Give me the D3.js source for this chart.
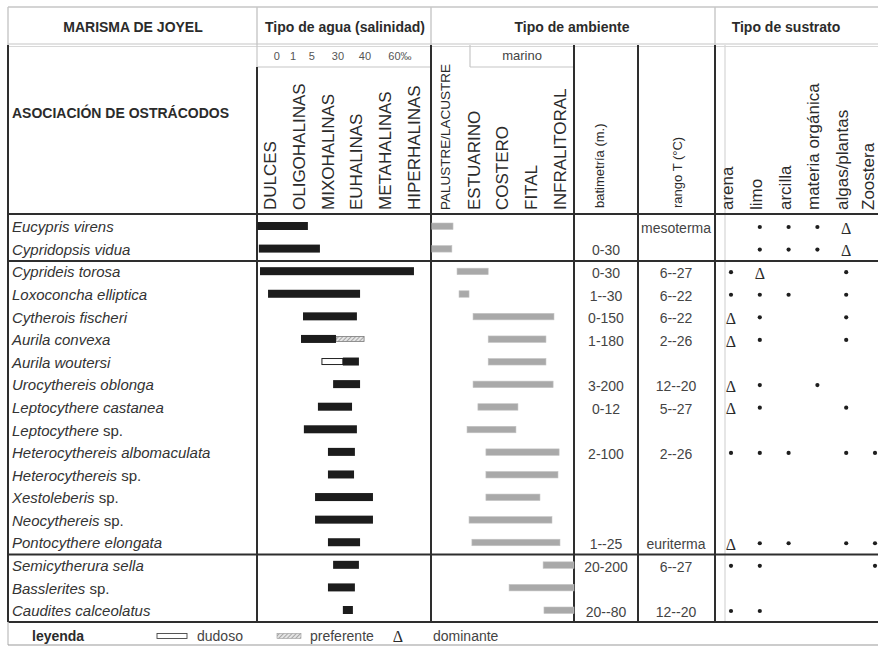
<!DOCTYPE html>
<html>
<head>
<meta charset="utf-8">
<script src="https://cdn.jsdelivr.net/npm/d3@7"></script>
<style>
  body { margin: 0; background: #fff; }
  svg { display: block; }
  text { font-family: "Liberation Sans", Arial, sans-serif; fill: #2b2b2b; }
</style>
</head>
<body>
<svg id="chart" width="878" height="646"></svg>
<script>
// ---- Species (rows) ----
const species = [
  "Eucypris virens", "Cypridopsis vidua",
  "Cyprideis torosa", "Loxoconcha elliptica", "Cytherois fischeri", "Aurila convexa",
  "Aurila woutersi", "Urocythereis oblonga", "Leptocythere castanea", "Leptocythere sp.",
  "Heterocythereis albomaculata", "Heterocythereis sp.", "Xestoleberis sp.", "Neocythereis sp.",
  "Pontocythere elongata",
  "Semicytherura sella", "Basslerites sp.", "Caudites calceolatus"
];
// first row of each new association group
const groupStarts = [2, 15];

// ---- Water type (salinity) : classes and tolerance ranges in class units ----
const waterTypes = ["DULCES", "OLIGOHALINAS", "MIXOHALINAS", "EUHALINAS", "METAHALINAS", "HIPERHALINAS"];
const salinityTicks = ["0", "1", "5", "30", "40", "60‰"];
const salinityTickAt = [0.73, 1.29, 1.95, 2.86, 3.80, 5.02];
const salFrom = [0.05, 0.10, 0.14, 0.42, 1.64, 1.57, 3.03, 2.69, 2.16, 1.67, 2.51, 2.51, 2.06, 2.06, 2.51, 2.69, 2.51, 3.03];
const salTo   = [1.81, 2.23, 5.51, 3.63, 3.52, 2.79, 3.59, 3.63, 3.35, 3.52, 3.45, 3.42, 4.08, 4.08, 3.63, 3.59, 3.45, 3.38];
// extra segments: preferred (hatched) or doubtful (open) range
const salExtraType = [null, null, null, null, null, "preferente", "dudoso", null, null, null, null, null, null, null, null, null, null, null];
const salExtraFrom = [0, 0, 0, 0, 0, 2.79, 2.30, 0, 0, 0, 0, 0, 0, 0, 0, 0, 0, 0];
const salExtraTo   = [0, 0, 0, 0, 0, 3.77, 3.03, 0, 0, 0, 0, 0, 0, 0, 0, 0, 0, 0];

// ---- Environment type ----
const envTypes = ["ESTUARINO", "COSTERO", "FITAL", "INFRALITORAL"];
const envFirst = "PALUSTRE/LACUSTRE";
const envFrom = [0.03, 0.03, 0.91, 0.98, 1.47, 2.00, 2.00, 1.47, 1.64, 1.26, 1.92, 1.92, 1.92, 1.33, 1.43, 3.92, 2.73, 3.95];
const envTo   = [0.77, 0.73, 2.00, 1.33, 4.30, 4.02, 4.02, 4.27, 3.04, 2.97, 4.48, 4.44, 3.81, 4.23, 4.51, 5.00, 5.00, 5.00];

// ---- Bathymetry (m) and temperature range (°C) ----
const batimetria = ["", "0-30", "0-30", "1--30", "0-150", "1-180", "", "3-200", "0-12", "", "2-100", "", "", "", "1--25", "20-200", "", "20--80"];
const rangoT = ["mesoterma", "", "6--27", "6--22", "6--22", "2--26", "", "12--20", "5--27", "", "2--26", "", "", "", "euriterma", "6--27", "", "12--20"];

// ---- Substrate: o = present, D = dominant, - = absent ----
const sustratoCols = ["arena", "limo", "arcilla", "materia orgánica", "algas/plantas", "Zoostera"];
const sustrato = [
  "-oooD-", "-oooD-",
  "oD--o-", "ooo-o-", "Do--o-", "Do--o-", "------", "Do-o--", "Do--o-", "------",
  "ooo-oo", "------", "------", "------", "Doo-oo",
  "oo---o", "------", "oo----"
];

// ---- Layout ----
const X = { left: 8, sal: 257, env: 431, bat: 574, ran: 638, sub: 715, subInner: 725, right: 878 };
const Y = { top: 7, hdr1: 45, numRow: 67, hdr2: 214, dataEnd: 622, legendEnd: 645 };
const DARK = "#2e2e2e", LIGHT = "#c6c6c6";

const svg = d3.select("#chart");

const xSal = d3.scaleLinear().domain([0, 6]).range([256, 428]);
const xEnv = d3.scaleLinear().domain([0, 5]).range([431, 574]);
const xSub = d3.scalePoint().domain(sustratoCols).range([731, 875]);
const yRow = d3.scalePoint().domain(d3.range(species.length)).range([227, 611]);

// hatch pattern for "preferente"
const defs = svg.append("defs");
const pat = defs.append("pattern").attr("id", "hatch").attr("patternUnits", "userSpaceOnUse")
  .attr("width", 3).attr("height", 3).attr("patternTransform", "rotate(45)");
pat.append("rect").attr("width", 3).attr("height", 3).attr("fill", "#e4e4e4");
pat.append("line").attr("x1", 0).attr("y1", 0).attr("x2", 0).attr("y2", 3).attr("stroke", "#7d7d7d").attr("stroke-width", 1.2);

const grid = svg.append("g");
function hline(y, x1, x2, color, w) {
  grid.append("line").attr("x1", x1).attr("x2", x2).attr("y1", y).attr("y2", y)
    .attr("stroke", color).attr("stroke-width", w);
}
function vline(x, y1, y2, color, w) {
  grid.append("line").attr("x1", x).attr("x2", x).attr("y1", y1).attr("y2", y2)
    .attr("stroke", color).attr("stroke-width", w);
}

// light frame of the title row
hline(Y.top, X.left, X.right, LIGHT, 1.4);
hline(Y.hdr1 - 1, X.left, X.right, LIGHT, 1.2);
hline(Y.hdr1 + 1.5, X.left, X.right, "#d8d8d8", 1.2);
[X.left, X.sal, X.env, X.sub].forEach(x => vline(x, Y.top, Y.hdr1, LIGHT, 1.4));
vline(X.sal, Y.hdr1, Y.numRow, LIGHT, 1.2);
hline(Y.numRow, X.sal, X.env, LIGHT, 1.2);
// "marino" box
vline(470, Y.hdr1, Y.numRow, LIGHT, 1.2);
hline(Y.numRow, 470, X.bat, LIGHT, 1.2);
vline(X.subInner, Y.hdr1, Y.dataEnd, "#d6d6d6", 1.2);

// dark grid
vline(X.left, Y.hdr1, Y.dataEnd, DARK, 2);
vline(X.sal, Y.numRow, Y.dataEnd, DARK, 2);
[X.env, X.bat, X.ran, X.sub].forEach(x => vline(x, Y.hdr1, Y.dataEnd, DARK, 2));
hline(Y.hdr2, X.left, X.right, DARK, 2);
groupStarts.forEach(i => hline((yRow(i - 1) + yRow(i)) / 2, X.left, X.right, DARK, 2));
hline(Y.dataEnd, X.left, X.right, DARK, 2);
// legend row frame
vline(X.left, Y.dataEnd, Y.legendEnd, LIGHT, 1.4);
hline(Y.legendEnd, X.left, X.right, "#9a9a9a", 1.2);

// ---- Headers ----
const hdr = svg.append("g");
function title(x, text) {
  hdr.append("text").attr("x", x).attr("y", 27).attr("dy", "0.35em").attr("text-anchor", "middle")
    .style("font-size", "14px").style("font-weight", "bold").text(text);
}
title(133, "MARISMA DE JOYEL");
title(345, "Tipo de agua (salinidad)");
title(572, "Tipo de ambiente");
title(786, "Tipo de sustrato");

hdr.append("text").attr("x", 12).attr("y", 113).attr("dy", "0.35em")
  .style("font-size", "14px").style("font-weight", "bold").text("ASOCIACIÓN DE OSTRÁCODOS");

function vlabel(x, yb, text, size) {
  hdr.append("text").attr("transform", `translate(${x},${yb}) rotate(-90)`).attr("dy", "0.35em")
    .style("font-size", size + "px").text(text);
}
waterTypes.forEach((t, i) => vlabel(xSal(i + 0.5), 210, t, 17));
salinityTicks.forEach((t, i) => {
  hdr.append("text").attr("x", xSal(salinityTickAt[i])).attr("y", 56).attr("dy", "0.35em")
    .attr("text-anchor", "middle").style("font-size", "11px").style("fill", "#555").text(t);
});
vlabel(xEnv(0.5), 210, envFirst, 13.5);
envTypes.forEach((t, i) => vlabel(xEnv(i + 1.5), 210, t, 17));
hdr.append("text").attr("x", 522).attr("y", 55).attr("dy", "0.35em").attr("text-anchor", "middle")
  .style("font-size", "13px").style("fill", "#444").text("marino");
vlabel(599, 208, "batimetría (m.)", 13);
vlabel(677, 208, "rango T (°C)", 13);
// substrate labels; the last one is nudged so it stays inside the page
sustratoCols.forEach((c, j) => vlabel(Math.min(xSub(c) - 4, 868), 210, c, 17));

// ---- Rows ----
const rows = svg.append("g");
species.forEach((name, i) => {
  const t = rows.append("text").attr("x", 12).attr("y", yRow(i)).attr("dy", "0.35em")
    .style("font-size", "15px").style("fill", "#333");
  if (name.endsWith(" sp.")) {
    t.append("tspan").style("font-style", "italic").text(name.slice(0, -4));
    t.append("tspan").text(" sp.");
  } else {
    t.style("font-style", "italic").text(name);
  }
});

// salinity bars
const barH = 8;
species.forEach((_, i) => {
  const yc = yRow(i) - 1;
  if (salExtraType[i] === "preferente") {
    rows.append("rect").attr("x", xSal(salExtraFrom[i])).attr("y", yc - barH / 2 + 1.5)
      .attr("width", xSal(salExtraTo[i]) - xSal(salExtraFrom[i])).attr("height", barH - 3)
      .attr("fill", "url(#hatch)").attr("stroke", "#7a7a7a").attr("stroke-width", 0.8);
  } else if (salExtraType[i] === "dudoso") {
    rows.append("rect").attr("x", xSal(salExtraFrom[i])).attr("y", yc - barH / 2 + 1)
      .attr("width", xSal(salExtraTo[i]) - xSal(salExtraFrom[i])).attr("height", barH - 2)
      .attr("fill", "#fff").attr("stroke", "#222").attr("stroke-width", 1);
  }
  rows.append("rect").attr("x", xSal(salFrom[i])).attr("y", yc - barH / 2)
    .attr("width", xSal(salTo[i]) - xSal(salFrom[i])).attr("height", barH)
    .attr("fill", "#1c1c1c");
});

// environment bars
species.forEach((_, i) => {
  rows.append("rect").attr("x", xEnv(envFrom[i])).attr("y", yRow(i) - 4)
    .attr("width", xEnv(envTo[i]) - xEnv(envFrom[i])).attr("height", 6.5)
    .attr("fill", "#a9a9a9").attr("stroke", "#c4c4c4").attr("stroke-width", 0.6);
});

// bathymetry and temperature
species.forEach((_, i) => {
  if (batimetria[i]) rows.append("text").attr("x", 606).attr("y", yRow(i) + 1).attr("dy", "0.35em")
    .attr("text-anchor", "middle").style("font-size", "14px").style("fill", "#444").text(batimetria[i]);
  if (rangoT[i]) rows.append("text").attr("x", 676).attr("y", yRow(i) + 1).attr("dy", "0.35em")
    .attr("text-anchor", "middle").style("font-size", "14px").style("fill", "#444").text(rangoT[i]);
});

// substrate symbols
species.forEach((_, i) => {
  sustratoCols.forEach((c, j) => {
    const s = sustrato[i][j];
    if (s === "o") {
      rows.append("circle").attr("cx", xSub(c)).attr("cy", yRow(i)).attr("r", 2.1).attr("fill", "#1e1e1e");
    } else if (s === "D") {
      rows.append("text").attr("x", xSub(c)).attr("y", yRow(i) + 1).attr("dy", "0.35em")
        .attr("text-anchor", "middle").style("font-family", "'Liberation Serif', 'DejaVu Serif', serif")
        .style("font-size", "16px").text("Δ");
    }
  });
});

// ---- Legend ----
const lg = svg.append("g");
const ly = 636;
lg.append("text").attr("x", 32).attr("y", ly).attr("dy", "0.35em").style("font-size", "14px")
  .style("font-weight", "bold").text("leyenda");
lg.append("rect").attr("x", 157).attr("y", ly - 2.5).attr("width", 30).attr("height", 5)
  .attr("fill", "#fff").attr("stroke", "#444").attr("stroke-width", 0.9);
lg.append("text").attr("x", 197).attr("y", ly).attr("dy", "0.35em").style("font-size", "14px").style("fill", "#444").text("dudoso");
lg.append("rect").attr("x", 277).attr("y", ly - 2.5).attr("width", 24).attr("height", 5)
  .attr("fill", "url(#hatch)").attr("stroke", "#999").attr("stroke-width", 0.6);
lg.append("text").attr("x", 310).attr("y", ly).attr("dy", "0.35em").style("font-size", "14px").style("fill", "#444").text("preferente");
lg.append("text").attr("x", 398).attr("y", ly).attr("dy", "0.35em").attr("text-anchor", "middle")
  .style("font-family", "'Liberation Serif', 'DejaVu Serif', serif").style("font-size", "16px").text("Δ");
lg.append("text").attr("x", 433).attr("y", ly).attr("dy", "0.35em").style("font-size", "14px").style("fill", "#444").text("dominante");
</script>
</body>
</html>
